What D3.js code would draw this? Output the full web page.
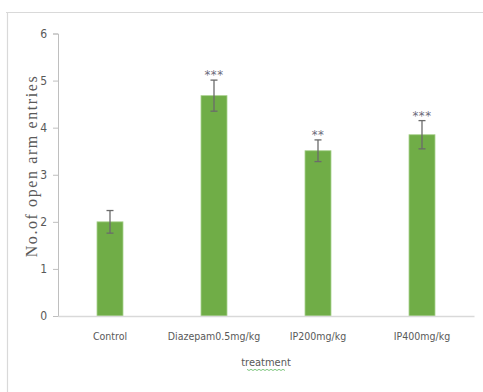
<!DOCTYPE html>
<html>
<head>
<meta charset="utf-8">
<script src="https://cdn.jsdelivr.net/npm/d3@7"></script>
<style>
  html, body { margin: 0; padding: 0; background: #ffffff; }
  svg { display: block; }
</style>
</head>
<body>
<div id="chart"></div>
<script>
// Open-arm entries per treatment group (mean ± error)
const categories = ["Control", "Diazepam0.5mg/kg", "IP200mg/kg", "IP400mg/kg"];
const means = [2.0, 4.68, 3.51, 3.85];
const errors = [0.24, 0.33, 0.23, 0.30];
const significance = ["", "***", "**", "***"];
const yTicks = [0, 1, 2, 3, 4, 5, 6];

const width = 483, height = 392;
const margin = { top: 33.5, right: 9, bottom: 76, left: 58 };

const svg = d3.select("#chart").append("svg")
  .attr("width", width).attr("height", height);

// outer chart frame (top and left edges visible)
svg.append("path")
  .attr("d", `M6,12.5 H${width} M7.5,12 V${height}`)
  .attr("fill", "none").attr("stroke", "#d9d9d9").attr("stroke-width", 1.2);

const x = d3.scaleBand()
  .domain(categories)
  .range([margin.left, width - margin.right])
  .paddingInner(0.75).paddingOuter(0.375);

const y = d3.scaleLinear()
  .domain([0, 6])
  .range([height - margin.bottom, margin.top]);

const textColor = "#595959";
const narrow = "'Liberation Sans Narrow', 'Arial Narrow', 'DejaVu Sans Condensed', sans-serif";

// y axis
const yAxis = svg.append("g")
  .attr("transform", `translate(${margin.left},0)`)
  .call(d3.axisLeft(y).tickValues(yTicks).tickFormat(d3.format("d")).tickSize(5).tickPadding(6));
yAxis.select(".domain").attr("stroke", "#bfbfbf");
yAxis.selectAll(".tick line").attr("stroke", "#bfbfbf");
yAxis.selectAll("text").attr("fill", textColor)
  .style("font-family", narrow).style("font-size", "12px");

// bars
svg.append("g").selectAll("rect")
  .data(categories)
  .join("rect")
  .attr("x", d => x(d))
  .attr("width", x.bandwidth())
  .attr("y", (d, i) => y(means[i]))
  .attr("height", (d, i) => y(0) - y(means[i]))
  .attr("fill", "#70ad47")
  .attr("stroke", "#a9d18e").attr("stroke-width", 0.8);

// x axis (baseline drawn over bar bottoms)
const xAxis = svg.append("g")
  .attr("transform", `translate(0,${y(0)})`)
  .call(d3.axisBottom(x).tickSize(0).tickPadding(17));
xAxis.select(".domain").attr("stroke", "#d9d9d9").attr("stroke-width", 1.5);
xAxis.selectAll("text").attr("fill", textColor)
  .style("font-family", narrow).style("font-size", "10.5px");

// error bars
const eb = svg.append("g").attr("stroke", "#6b6b6b").attr("stroke-width", 1.3);
categories.forEach((c, i) => {
  const cx = x(c) + x.bandwidth() / 2;
  const top = y(means[i] + errors[i]), bot = y(means[i] - errors[i]);
  eb.append("line").attr("x1", cx).attr("x2", cx).attr("y1", top).attr("y2", bot);
  eb.append("line").attr("x1", cx - 3.5).attr("x2", cx + 3.5).attr("y1", top).attr("y2", top);
  eb.append("line").attr("x1", cx - 3.5).attr("x2", cx + 3.5).attr("y1", bot).attr("y2", bot);
});

// significance markers
svg.append("g").selectAll("text")
  .data(categories)
  .join("text")
  .attr("x", d => x(d) + x.bandwidth() / 2)
  .attr("y", (d, i) => y(means[i] + errors[i]) - 1)
  .attr("text-anchor", "middle")
  .attr("fill", "#6a6a7a")
  .style("font-family", narrow).style("font-size", "13px")
  .style("letter-spacing", "0.5px")
  .text((d, i) => significance[i]);

// axis titles
const midX = (margin.left + width - margin.right) / 2;
svg.append("text")
  .attr("x", midX).attr("y", 366)
  .attr("text-anchor", "middle").attr("fill", textColor)
  .style("font-family", narrow).style("font-size", "11px")
  .text("treatment");

// spell-check style wavy underline beneath the x title
const wave = [];
for (let px = midX - 19; px <= midX + 19; px += 2) {
  wave.push([px, 369.5 + ((Math.round((px - midX + 19) / 2) % 2) ? 1 : -0.2)]);
}
svg.append("path")
  .attr("d", d3.line()(wave))
  .attr("fill", "none").attr("stroke", "#5fb85f").attr("stroke-width", 0.8);

svg.append("text")
  .attr("transform", `translate(37,166) rotate(-90)`)
  .attr("text-anchor", "middle").attr("fill", textColor)
  .style("font-family", "'Liberation Serif', 'DejaVu Serif', serif").style("font-size", "16px")
  .style("letter-spacing", "1.6px")
  .text("No.of open arm entries");
</script>
</body>
</html>
